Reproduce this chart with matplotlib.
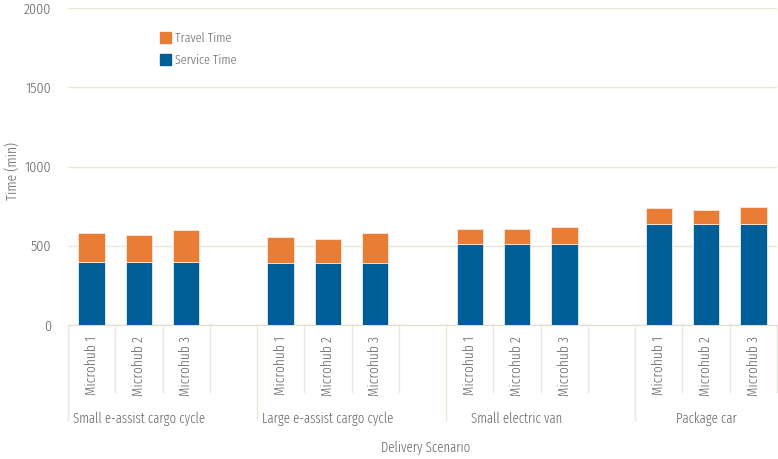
import numpy as np
import matplotlib.pyplot as plt
from matplotlib.transforms import blended_transform_factory
from matplotlib.patches import Patch

plt.rcParams['font.family'] = ['Fira Sans Extra Condensed', 'DejaVu Sans']
plt.rcParams['font.weight'] = 300

scenarios = ["Small e-assist cargo cycle", "Large e-assist cargo cycle",
             "Small electric van", "Package car"]
hubs = ["Microhub 1", "Microhub 2", "Microhub 3"]
service_time = [395, 395, 395,
                393, 393, 393,
                513, 513, 513,
                635, 635, 635]
travel_time = [183, 175, 204,
               160, 150, 187,
               95, 95, 106,
               101, 93, 111]

BLUE = "#005e96"
ORANGE = "#e97d35"
GRID = "#ebe6d8"
TXT = "#676767"

# each scenario takes 3 bar slots plus one blank spacer slot (none after the last)
slots = []
for g in range(len(scenarios)):
    slots += [g * 4 + k for k in range(len(hubs))]
slots = np.array(slots)
n_slots = len(scenarios) * 4 - 1

fig = plt.figure(figsize=(7.78, 4.59), dpi=100)
ax = fig.add_axes([68 / 778, 1 - 325 / 459, 709 / 778, 317 / 459])

ax.bar(slots, service_time, width=0.56, color=BLUE, edgecolor="#e6eef5", linewidth=0.6, zorder=3)
ax.bar(slots, travel_time, bottom=service_time, width=0.56, color=ORANGE,
       edgecolor="#fbe9dc", linewidth=0.6, zorder=3)

ax.set_xlim(-0.5, n_slots - 0.5)
ax.set_ylim(0, 2000)
ax.set_yticks(np.arange(0, 2001, 500))
ax.tick_params(axis='y', length=0, pad=12, labelsize=11, labelcolor=TXT)
ax.set_xticks([])
ax.yaxis.grid(True, color=GRID, lw=1)
ax.set_axisbelow(True)
for s in ["top", "right", "left"]:
    ax.spines[s].set_visible(False)
ax.spines["bottom"].set_color("#e2dccb")

# category axis: separators, hub labels and scenario labels
tr = blended_transform_factory(ax.transData, ax.transAxes)
for i in range(n_slots + 1):
    x = i - 0.5
    long_line = (i % 4 == 0)
    ax.plot([x, x], [0, -0.30 if long_line else -0.211], transform=tr,
            color=GRID, lw=1, clip_on=False)
for s, k in zip(slots, range(len(slots))):
    ax.text(s, -0.035, hubs[k % 3], transform=tr, rotation=90, ha="center", va="top",
            fontsize=10.5, color=TXT)
for g, name in enumerate(scenarios):
    ax.text(g * 4 + 1, -0.297, name, transform=tr, ha="center", va="center",
            fontsize=10, color=TXT)

fig.text(426 / 778, 1 - 448 / 459, "Delivery Scenario", ha="center", va="center",
         fontsize=10, color=TXT)
fig.text(13 / 778, 1 - 171 / 459, "Time (min)", rotation=90, ha="center", va="center",
         fontsize=10.5, color=TXT)

handles = [Patch(color=ORANGE, label="Travel Time"), Patch(color=BLUE, label="Service Time")]
ax.legend(handles=handles, loc="upper left", bbox_to_anchor=(160 / 778, 1 - 32 / 459),
          bbox_transform=fig.transFigure, frameon=False, fontsize=9.5, labelcolor=TXT,
          handlelength=0.85, handleheight=0.85, handletextpad=0.3, labelspacing=0.75,
          borderpad=0, borderaxespad=0)

fig.savefig("out.png", dpi=100)
